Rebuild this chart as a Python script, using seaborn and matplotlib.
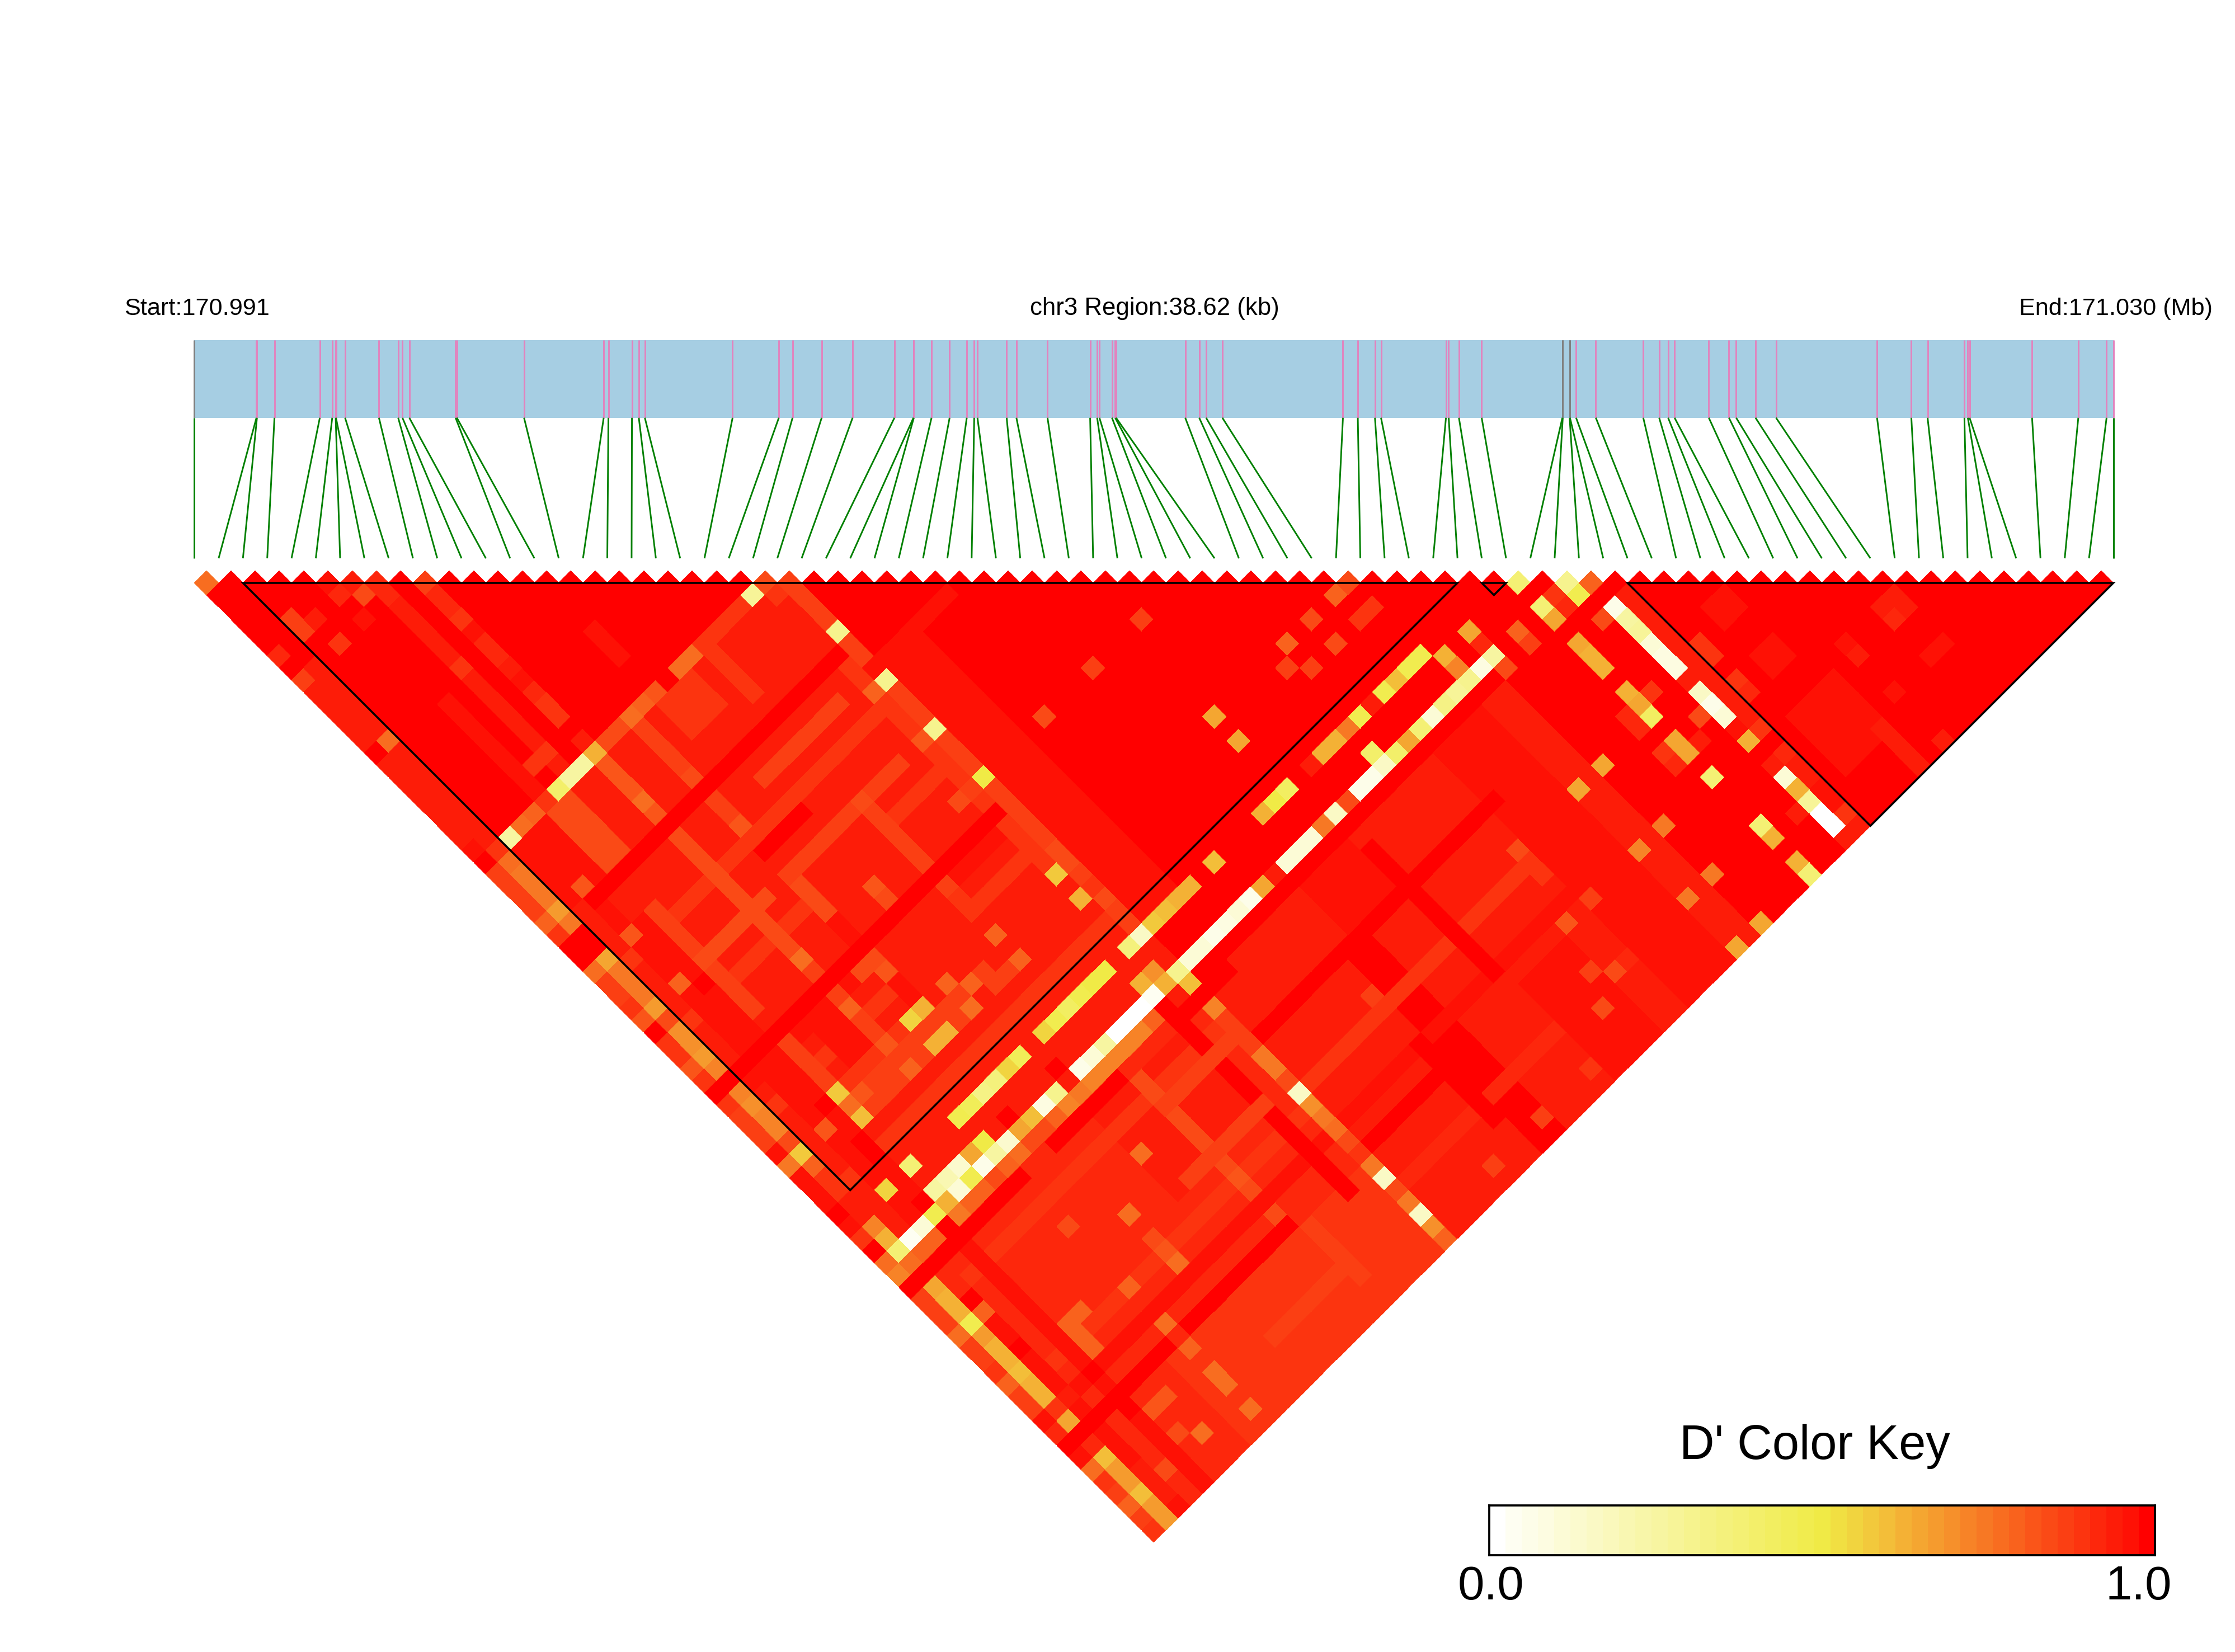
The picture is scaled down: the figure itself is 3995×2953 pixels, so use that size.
import numpy as np
import matplotlib
matplotlib.use("Agg")
import matplotlib.pyplot as plt
import seaborn as sns
from matplotlib.colors import LinearSegmentedColormap, ListedColormap
from matplotlib.transforms import Affine2D
from matplotlib.patches import Polygon, Rectangle

sns.set_theme(style="white")
plt.rcParams['font.family'] = ['Liberation Sans', 'DejaVu Sans']

W, H = 3995, 2953
n_snp = 80
region_kb = 38.62
title_start = "Start:170.991"
title_mid = "chr3 Region:38.62 (kb)"
title_end = "End:171.030 (Mb)"
key_title = "D' Color Key"
key_labels = ["0.0", "1.0"]
key_bins = 41

snp_kb = [0, 1.25, 1.26, 1.612, 2.525, 2.775, 2.844, 2.85, 3.033, 3.715, 4.102, 4.188, 4.326, 5.257, 5.283, 6.635,
          8.238, 8.333, 8.807, 8.945, 9.066, 10.832, 11.763, 12.039, 12.625, 13.248, 14.09, 14.472, 14.48, 14.836,
          15.2, 15.545, 15.695, 15.76, 16.348, 16.544, 17.17, 18.028, 18.169, 18.215, 18.467, 18.532, 18.55, 19.942,
          20.223, 20.362, 20.689, 23.116, 23.415, 23.76, 23.882, 25.189, 25.244, 25.45, 25.908, 27.532, 27.54, 27.678,
          27.685, 27.808, 28.205, 29.16, 29.48, 29.66, 29.79, 30.479, 30.884, 31.03, 31.419, 31.832, 33.865, 34.555,
          34.882, 35.623, 35.692, 35.727, 36.985, 37.915, 38.484, 38.62]
grey_snps = [0, 55, 56, 57, 58]

# haplotype blocks: first and last SNP
block_first = [2, 53, 59]
block_last = [52, 54, 79]

# D', by rectangles of SNP pairs (i first, j second)
rect_i0 = [0, 25, 28, 0, 25, 50, 24, 0, 8, 32]
rect_i1 = [24, 27, 31, 24, 49, 56, 24, 24, 24, 33]
rect_j0 = [25, 33, 33, 59, 59, 59, 25, 54, 73, 64]
rect_j1 = [58, 53, 53, 79, 79, 79, 79, 58, 79, 79]
rect_v = [.93, .97, .985, .92, .95, 1.0, .87, .93, .89, 1.0]

small_i0 = [14, 61, 61, 60, 5, 5, 12, 14, 5, 2, 14, 15,
            0, 0, 0, 0, 0, 3, 3, 3, 25, 25, 25,
            3, 7, 12, 13, 38, 44, 4, 4,
            22, 18, 18, 16, 25, 37, 39, 33, 12, 5, 12, 12, 18, 5, 5, 5, 9, 9, 6, 23, 7, 31]
small_i1 = [16, 62, 62, 63, 5, 5, 13, 14, 5, 4, 15, 22,
            23, 23, 23, 23, 23, 23, 23, 23, 47, 47, 47,
            3, 8, 12, 17, 41, 47, 4, 4,
            22, 18, 24, 22, 31, 37, 44, 36, 21, 10, 15, 12, 18, 5, 5, 5, 9, 9, 6, 23, 16, 31]
small_j0 = [25, 64, 68, 72, 16, 13, 18, 19, 25, 25, 39, 60,
            34, 39, 46, 52, 44, 61, 68, 70, 67, 75, 70,
            25, 44, 41, 38, 72, 59, 33, 60,
            58, 60, 62, 66, 72, 60, 63, 59, 37, 37, 35, 38, 38, 33, 38, 43, 31, 42, 25, 30, 49, 70]
small_j1 = [27, 65, 69, 76, 23, 14, 21, 21, 29, 29, 42, 66,
            34, 39, 46, 52, 44, 61, 68, 70, 67, 75, 70,
            58, 47, 47, 47, 79, 79, 58, 79,
            73, 65, 62, 66, 72, 70, 63, 62, 37, 37, 35, 40, 44, 36, 41, 47, 40, 47, 29, 47, 49, 76]
small_v = [.88, .96, .97, .96, .96, .98, .98, .97, .83, .96, .86, .95,
           .9, .9, .89, .9, .96, .89, .89, .96, .9, .92, .97,
           .96, .96, .96, .95, .97, .97, .97, .97,
           .98, .85, .87, .87, 1, 1, 1, .97, .86, .84, 1, .84, .87, .87, .87, .87, .84, .87, .85, .9, .87, 1]

row_0 = {1: .78, 7: .92, 9: .87, 10: .95, 11: .95, 12: .95, 13: .95, 14: .95, 15: 1, 16: .95, 17: .95, 18: .95, 19: .95,
         20: .95, 21: .95, 22: .95, 23: .97, 24: 1, 25: .87, 26: .87, 27: .87, 28: .87, 29: .8, 30: .88, 31: 1, 32: 1,
         33: .78, 34: .87, 35: .87, 36: .9, 37: .82, 38: 1, 39: .88, 40: .88, 41: .82, 42: .9, 43: 1, 44: .88, 45: .87,
         46: .87, 47: .87, 48: .96, 49: .75, 50: .96, 51: .96, 52: .96, 53: 1, 54: .96, 55: .9, 56: 1, 57: .78, 58: .72,
         59: 1, 60: .87, 61: .87, 62: .87, 63: .78, 64: .87, 65: .87, 66: .9, 67: .8, 68: .87, 69: .87, 70: .96, 71: .92,
         72: 1, 73: .96, 74: .78, 75: .9, 76: .87, 77: .8, 78: .87, 79: .88}
row_1 = {9: .95, 10: .95, 11: .95, 12: .95, 13: .95, 14: .95, 15: .78, 16: .95, 17: .95, 18: .95, 19: .95, 20: .95,
         21: .95, 22: .94, 23: .94, 24: .9, 25: .78, 26: .75, 27: .75, 28: .75, 29: .68, 30: .75, 31: 1, 32: 1, 33: .65,
         34: .75, 35: .75, 36: .75, 37: .66, 38: .85, 39: .7, 40: .7, 41: .68, 42: .72, 43: 1, 44: .72, 45: .7, 46: .73,
         47: .73, 48: .85, 49: .58, 50: .8, 51: .9, 52: .9, 53: .95, 54: .95, 55: .72, 56: .62, 57: .38, 58: .78, 59: 1,
         60: .65, 61: .63, 62: .63, 63: .47, 64: .67, 65: .62, 66: .62, 67: .6, 68: .62, 69: .62, 70: .9, 71: .65, 72: 1,
         73: .92, 74: .6, 75: .66, 76: .68, 77: .6, 78: .67, 79: .67}
row_2 = {6: .87, 7: .87, 62: .98, 63: .8, 64: .97, 65: .97, 66: .98, 67: .97, 68: .96, 69: .97, 70: .95, 71: .96, 72: 1,
         73: .97, 74: .97, 75: .97, 76: .95, 77: .94, 78: .93, 79: .96}
row_3 = {7: .94, 9: .88, 22: .98, 29: .82, 33: .82, 37: .8, 49: .82, 77: .84}
row_4 = {38: 1, 48: 1, 51: 1, 52: 1, 56: 1, 70: 1, 73: 1}
row_5 = {6: .97, 7: .92, 9: .96, 10: .98, 48: .58, 49: .78, 50: .6, 54: .38, 56: .25, 57: .62, 67: .8, 68: .8, 69: .8,
         74: .82, 76: .85}
row_6 = {7: .95, 8: .85, 22: .88, 49: .82, 67: .8, 74: .82, 77: .78}
row_7 = {8: .92, 9: .92, 10: .94, 11: .94, 12: .94, 13: .94, 14: .94, 15: .88, 16: .94, 17: .94, 18: .94, 19: .94,
         20: .94, 21: .94, 22: .88, 23: .94}
row_9 = {10: .86, 11: .92, 12: .92, 13: .9, 14: .96, 15: .92, 16: .92, 17: .94, 18: .96, 19: .92, 20: .9, 21: .9,
         23: .95, 25: .82, 26: .82, 27: .82, 28: .78, 29: .82, 41: .78, 45: .8, 48: .82, 50: .8, 63: .85, 68: .8,
         71: .78, 73: .8, 75: .77, 76: .77, 78: .78}
row_11 = {44: .85, 56: 1}
row_12 = {25: .87, 26: .87, 27: .87, 28: .87, 29: .85, 31: .87, 32: .87, 33: .82, 44: .84, 45: .82, 48: .62, 50: .62,
          65: .78, 67: .85, 68: .82, 69: .78}
row_14 = {19: .97, 20: .97, 21: .97, 48: .8, 50: .78}
row_15 = {41: .82, 42: .85, 49: .8, 56: 1, 63: .78}
row_18 = {24: .88, 25: .88, 26: .88, 27: .9, 28: .9, 37: .85, 45: .88, 48: .8, 50: .8, 67: .85, 68: .82, 69: .85, 71: .85}
row_19 = {73: .87, 74: .87, 75: .87, 76: .87, 77: .87}
row_22 = {41: .84}
row_23 = {24: .85, 25: .88, 33: .8, 37: .82, 41: .87, 48: .58, 50: .62, 54: .35, 56: .7}
row_24 = {29: .3, 33: .3, 37: .3, 41: .5, 47: .85, 48: .85, 50: .9, 51: .85, 58: .6, 60: .72, 64: .75, 65: .75, 66: .85,
          67: .15, 68: .7, 69: .75, 70: .76, 71: .85, 72: .9, 73: .75, 74: .15, 75: .85, 76: .75, 77: .15, 78: .7, 79: .8}
row_29 = {41: .85, 78: .87}
row_31 = {65: .93, 66: .87, 68: .93}
row_33 = {78: .87}
row_36 = {48: .65, 50: .65}
row_37 = {78: .9}
row_40 = {76: .85}
row_41 = {67: .88, 74: .87}
row_42 = {71: .82, 75: .85}
row_43 = {66: .85, 68: .88}
row_44 = {71: .87}
row_48 = {55: .62, 56: .72, 66: .65, 71: .73, 75: .74, 79: .64}
row_50 = {55: .65, 56: .92, 58: .85, 66: .65, 71: .75, 75: .75, 79: .64}
row_52 = {57: .8, 58: .87}
row_54 = {55: .38, 57: .38, 58: .65, 60: .65, 61: .62, 62: .62, 64: .63, 65: .65, 66: .42, 68: .65, 69: .65, 71: .38,
          75: .38, 76: .63, 78: .62, 79: .38}
row_53 = {65: .92, 66: .92, 68: .88, 69: .92}
row_55 = {57: .88, 58: .92, 65: .9, 69: .95}
row_56 = {57: .3, 58: .47, 60: .85, 68: .85, 76: .93}
row_57 = {58: .8, 60: .05, 61: .25, 62: .27, 63: .12, 64: .08, 65: .08, 66: .95, 67: .15, 68: .05, 69: .1, 70: .97,
          71: .62, 72: 1, 73: .93, 74: .12, 75: .62, 76: .28, 77: .0, 78: .0, 79: .93}
row_58 = {60: .93, 61: .93, 62: .93, 63: .93, 64: .93, 65: .93, 66: .93, 67: .93, 68: .93, 69: .93, 70: .93, 71: .9,
          73: .92, 74: .93, 75: .95, 76: .96, 77: .96, 78: .9, 79: .93}
row_59 = {65: .88, 66: .9, 68: .88, 69: .92}
row_63 = {76: .94, 77: .94, 78: .94, 79: .94}
row_65 = {71: .96, 72: .93, 75: .96, 79: .94}
row_68 = {71: .95, 72: .92, 75: .96}
row_69 = {71: .95, 72: .94, 75: .96}

col_24 = {23: .85, 21: .88, 20: .88, 19: .88, 18: .88, 17: .78, 16: .78, 14: .82, 13: .8, 12: .78, 11: .85, 10: .85,
          9: .62, 8: .25, 7: .25, 6: .4, 5: .88, 4: .8, 3: .78, 2: .25, 1: .9, 0: 1, 22: .28}
col_30 = {i: 1.0 for i in [3, 4, 5, 6, 7, 8, 9, 10, 11, 12, 13, 14, 15, 16, 17, 18, 19, 20, 21, 22, 23]}
col_32 = {30: .96, 29: .96, 28: .96, 27: .96, 26: .96, 25: .96, 24: .96, 21: .87, 20: .87, 19: .87, 18: .87, 17: .87,
          16: .87, 15: .87}
col_41 = {37: .87, 33: .87}
col_43 = {i: 1.0 for i in [2, 3, 4, 5, 6, 7, 8, 9, 10, 11, 12, 13, 14, 15, 16, 17, 18, 19, 20, 21, 22, 23]}
col_48 = {47: .85, 46: .8, 44: .85, 42: .8, 11: .55, 6: .9, 7: .9, 8: .9, 9: .9, 10: .9}
col_49 = {41: .87}
col_50 = {47: .88, 46: .88, 44: .85, 42: .87, 11: .62, 6: .87, 7: .87, 8: .87, 9: .8, 10: .87, 13: .87, 16: .87, 17: .87}
col_54 = {47: .47, 46: .47, 45: .6, 44: .47, 43: .95, 42: .47, 41: .74, 40: .62, 39: .62, 38: .95, 37: 1, 36: .42,
          35: .5, 34: .62, 33: 1, 30: .6, 28: .62, 27: .62, 26: .6, 25: .58, 24: .15, 23: .35, 21: .5, 20: .5, 19: .47,
          18: .42, 17: .47, 16: .55, 15: .95, 14: .45, 13: .55, 12: .35, 11: .33, 10: .45, 9: .48, 5: .38, 3: .55}
col_56 = {41: .4, 22: .62, 9: .5, 8: .65, 7: .13, 6: .2}
col_57 = {50: .25, 49: .08, 48: .3, 47: .28, 46: .33, 45: .1, 44: .38, 43: .65, 42: .4, 41: .15, 40: .07, 39: .07, 38: .85,
          37: .15, 36: .75, 35: .1, 34: .1, 33: .1, 32: .95, 31: .65, 30: .05, 29: .12, 28: .08, 27: .07, 26: .1, 25: .1,
          24: .3, 23: .63, 22: .03, 21: 0, 20: 0, 19: 0, 18: .25, 17: .1, 16: .07, 15: .95, 14: .3, 13: .08, 12: .6,
          11: .65, 10: .13, 9: .25, 8: .05, 7: .47, 6: .1, 5: .62, 4: .47, 3: .1, 2: .03}
col_58 = {21: .8, 20: .72, 19: .72, 18: .72, 17: .72, 16: .72, 15: .75, 14: .72, 13: .8, 12: .85, 11: .85, 10: .78,
          9: .8, 8: .85, 7: .8, 6: .8, 5: .75, 4: 1, 3: .8, 2: .8}
col_59 = {i: 1.0 for i in [2, 3, 4, 5, 6, 7, 8, 9, 12, 13, 14, 15, 16, 17, 23, 24, 25, 26]}
col_63 = {i: 1.0 for i in [25, 26, 27, 28, 29, 30, 31, 32, 33, 34, 35, 36, 37, 38]}
col_72 = {i: 1.0 for i in [3, 4, 5, 6, 7, 8, 10, 11, 12, 13, 14, 15, 16, 17, 18]}
col_76 = {18: .87, 17: .87, 16: .87, 15: .87, 14: .87, 13: .87}

rows = {0: row_0, 1: row_1, 2: row_2, 3: row_3, 4: row_4, 5: row_5, 6: row_6, 7: row_7, 9: row_9, 11: row_11, 12: row_12,
        14: row_14, 15: row_15, 18: row_18, 19: row_19, 22: row_22, 23: row_23, 24: row_24, 29: row_29, 31: row_31,
        33: row_33, 36: row_36, 37: row_37, 40: row_40, 41: row_41, 42: row_42, 43: row_43, 44: row_44, 48: row_48,
        50: row_50, 52: row_52, 53: row_53, 54: row_54, 55: row_55, 56: row_56, 57: row_57, 58: row_58, 59: row_59,
        63: row_63, 65: row_65, 68: row_68, 69: row_69}
cols = {24: col_24, 30: col_30, 32: col_32, 41: col_41, 43: col_43, 48: col_48, 49: col_49, 50: col_50, 54: col_54,
        56: col_56, 57: col_57, 58: col_58, 59: col_59, 63: col_63, 72: col_72, 76: col_76}

D = np.ones((n_snp, n_snp))
for a, b, c, d, val in zip(rect_i0, rect_i1, rect_j0, rect_j1, rect_v):
    D[a:b + 1, c:d + 1] = val
for a, b, c, d, val in zip(small_i0, small_i1, small_j0, small_j1, small_v):
    D[a:b + 1, c:d + 1] = val
for j, col in cols.items():
    for i, val in col.items():
        D[i, j] = val
for i, row in rows.items():
    for j, val in row.items():
        D[i, j] = val

# matrix row = first SNP, matrix column = second SNP - 1
M = D[:n_snp - 1, 1:]
mask = np.tril(np.ones_like(M, dtype=bool), -1)

base = LinearSegmentedColormap.from_list("dprime", [(0.0, "#FFFFFF"), (0.5, "#F0EB46"), (1.0, "#FF0000")], N=256)
cmap = ListedColormap([base((k + .5) / key_bins) for k in range(key_bins)])
cmap.colors[0] = (1, 1, 1, 1)
cmap.colors[-1] = (1, 0, 0, 1)

fig = plt.figure(figsize=(W / 300, H / 300), dpi=300, facecolor="white")

# axes in units of cells: x = mean SNP rank, y = rank distance - 1
x0_px, step = 347.4, 3430.1 / (n_snp - 1)
y0_px = 1042.0
ax = fig.add_axes([0, 0, 1, 1])
sns.heatmap(M, mask=mask, cmap=cmap, vmin=0, vmax=1, cbar=False, xticklabels=False, yticklabels=False,
            square=False, ax=ax)
mesh = ax.collections[0]
mesh.set_transform(Affine2D(np.array([[.5, .5, 0], [1, -1, 0], [0, 0, 1.]])) + ax.transData)
ax.set_xlim(-x0_px / step, (W - x0_px) / step)
ax.set_ylim((H - y0_px) / (step / 2), -y0_px / (step / 2))
ax.axis("off")

for a, b in zip(block_first, block_last):
    ax.add_patch(Polygon([(a, 0), (b, 0), ((a + b) / 2, b - a)], closed=True, fill=False, ec="black", lw=.85, zorder=5))

# gene track and connector lines, on the same cell axes
to_rank = (n_snp - 1) / region_kb
to_v = 1 / (step / 2)
y_top, y_bot, y_end = (607.5 - y0_px) * to_v, (746.8 - y0_px) * to_v, (998 - y0_px) * to_v
ax.add_patch(Rectangle((0, y_top), n_snp - 1, y_bot - y_top, fc="#A6CEE3", ec="none", zorder=2))
for k, kb in enumerate(snp_kb):
    xp = kb * to_rank
    ax.plot([xp, xp], [y_top, y_bot], color="#808080" if k in grey_snps else "#E283BE", lw=.7, zorder=3,
            solid_capstyle="butt")
    ax.plot([xp, k], [y_bot, y_end], color="#008000", lw=.7, zorder=3, solid_capstyle="butt")

fig.text(352 / W, 1 - 552 / H, title_start, ha="center", va="center", fontsize=10.4, color="black")
fig.text(2064 / W, 1 - 552 / H, title_mid, ha="center", va="center", fontsize=10.5, color="black")
fig.text(3782 / W, 1 - 552 / H, title_end, ha="center", va="center", fontsize=10.4, color="black")

# colour key
cax = fig.add_axes([2662 / W, 1 - 2780 / H, (3852 - 2662) / W, (2780 - 2691) / H])
sns.heatmap((np.arange(key_bins)[None, :] + .5) / key_bins, cmap=cmap, vmin=0, vmax=1, cbar=False, xticklabels=False,
            yticklabels=False, ax=cax)
for s in cax.spines.values():
    s.set_visible(True)
    s.set_color("black")
    s.set_linewidth(.9)
fig.text(3244 / W, 1 - 2585 / H, key_title, ha="center", va="center", fontsize=20.8, color="black")
fig.text(2665 / W, 1 - 2837 / H, key_labels[0], ha="center", va="center", fontsize=20.5, color="black")
fig.text(3823 / W, 1 - 2837 / H, key_labels[1], ha="center", va="center", fontsize=20.5, color="black")

fig.savefig("out.png", dpi=300, facecolor="white")
